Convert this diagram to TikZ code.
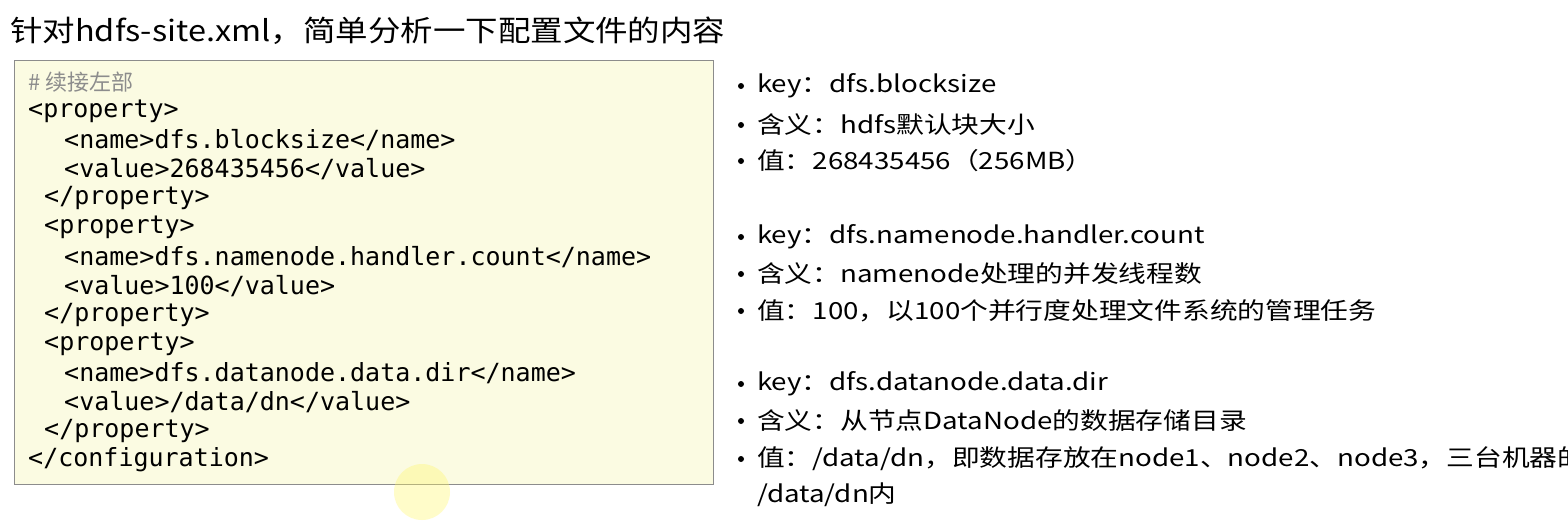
\documentclass[tikz,border=0pt]{standalone}
\usepackage{fontspec}
\setmainfont{Noto Sans CJK SC}
\newfontfamily\cjk{Noto Sans CJK SC}
\newfontfamily\cjkwide[FakeStretch=1.18]{Noto Sans CJK SC}
\newfontfamily\cjktitle[FakeStretch=1.12]{Noto Sans CJK SC}
\newfontfamily\codefont{DejaVu Sans Mono}
\begin{document}
\begin{tikzpicture}[x=1pt,y=-1pt,
  code/.style={anchor=west,inner sep=0pt,font=\codefont\fontsize{25}{25}\selectfont},
  info/.style={anchor=west,inner sep=0pt,font=\cjkwide\fontsize{23.5}{23.5}\selectfont},
  dot/.style={circle,fill=black,inner sep=0pt,minimum size=6pt}]
\useasboundingbox (0,0) rectangle (1568,523);
\fill[white] (0,0) rectangle (1568,523);
\node[anchor=west,inner sep=0pt,font=\cjktitle\fontsize{29}{29}\selectfont] (title) at (10,31) {针对hdfs-site.xml，简单分析一下配置文件的内容};
\node[draw=black!45,fill={rgb,255:red,251;green,251;blue,226},line width=0.8pt,minimum width=699pt,minimum height=424pt,anchor=north west,inner sep=0pt] (box) at (14,60) {};
\fill[yellow!60,opacity=0.35] (422,492) circle (28);
\node[code,text=black!45] (c0) at (28,82) {\cjk\fontsize{22}{22}\selectfont\# 续接左部};
\node[code] (c1) at (28,111) {<property>};
\node[code] (c2) at (64,140) {<name>dfs.blocksize</name>};
\node[code] (c3) at (64,169) {<value>268435456</value>};
\node[code] (c4) at (44,198) {</property>};
\node[code] (c5) at (44,227) {<property>};
\node[code] (c6) at (64,257) {<name>dfs.namenode.handler.count</name>};
\node[code] (c7) at (64,286) {<value>100</value>};
\node[code] (c8) at (44,315) {</property>};
\node[code] (c9) at (44,344) {<property>};
\node[code] (c10) at (64,373) {<name>dfs.datanode.data.dir</name>};
\node[code] (c11) at (64,402) {<value>/data/dn</value>};
\node[code] (c12) at (44,431) {</property>};
\node[code] (c13) at (28,460) {</configuration>};
\foreach \y/\t [count=\i] in {86/{key：dfs.blocksize},125/{含义：hdfs默认块大小},161/{值：268435456（256MB）},237/{key：dfs.namenode.handler.count},274/{含义：namenode处理的并发线程数},311/{值：100，以100个并行度处理文件系统的管理任务},384/{key：dfs.datanode.data.dir},421/{含义：从节点DataNode的数据存储目录},459/{值：/data/dn，即数据存放在node1、node2、node3，三台机器的}}{
  \node[dot] (b\i) at (741,\y) {};
  \node[info] (t\i) at (757,\y) {\t};
}
\node[info] (t10) at (757,495) {/data/dn内};
\end{tikzpicture}
\end{document}
